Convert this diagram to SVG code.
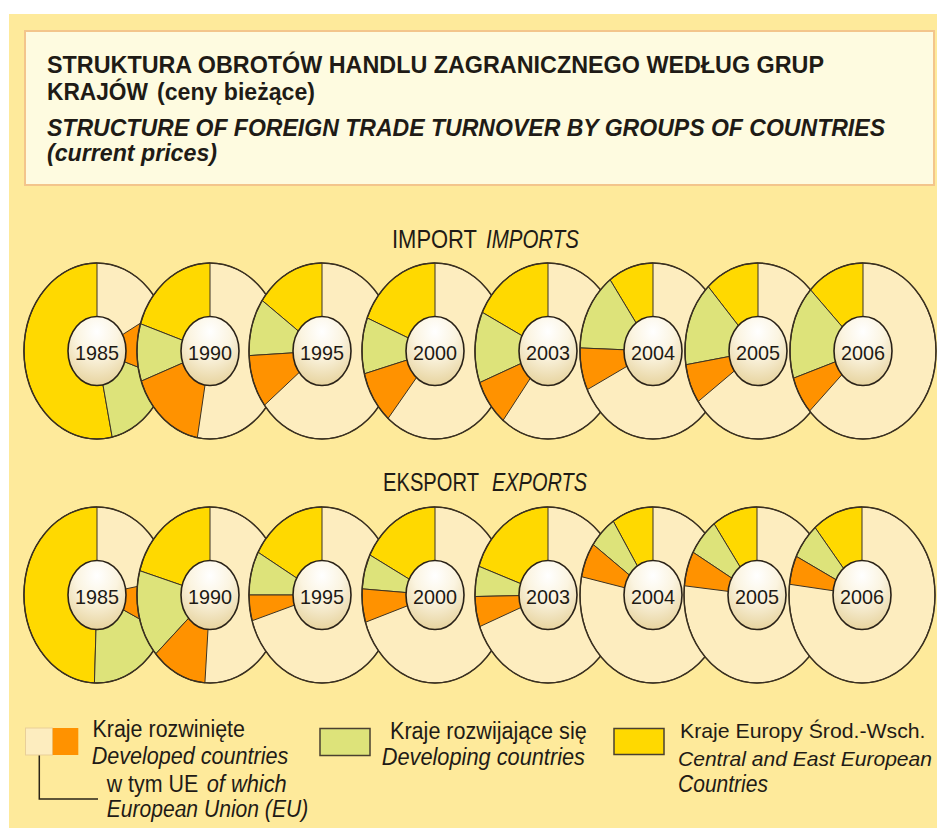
<svg xmlns="http://www.w3.org/2000/svg" width="937" height="828" viewBox="0 0 937 828">
<defs>
<radialGradient id="gl" cx="50%" cy="22%" r="80%">
<stop offset="0" stop-color="#ffffff"/>
<stop offset="0.45" stop-color="#fbf4e0"/>
<stop offset="1" stop-color="#e6d29c"/>
</radialGradient>
<style>
.t{font-family:"Liberation Sans",Arial,sans-serif;fill:#1f1b16}
.h{font-size:24px;font-weight:bold}
.lg{font-size:23px}
.lgs{font-size:21px}
.it{font-style:italic}
.cr{fill:#fdedbf}
.ye{fill:#ffd900}
.gr{fill:#dde37a}
.or{fill:#ff9200}
.w{stroke:#3d3322;stroke-width:1;stroke-linejoin:round}
.ol{fill:none;stroke:#3a3020;stroke-width:1.5}
.in{fill:url(#gl);stroke:#2a2218;stroke-width:1.6}
.yr{font-family:"Liberation Sans",Arial,sans-serif;font-size:21px;fill:#1e1a14;text-anchor:middle}
.sw{stroke:#4a4030;stroke-width:1.5}
</style>
</defs>
<rect x="0" y="0" width="937" height="828" fill="#ffffff"/>
<rect x="9" y="14" width="928" height="814" fill="#feea9b"/>
<g id="title">
<rect x="25" y="31" width="909" height="154" fill="#fefbe0" stroke="#f3c58c" stroke-width="2"/>
<text class="t h" x="47" y="72.5" textLength="777" lengthAdjust="spacingAndGlyphs">STRUKTURA OBROTÓW HANDLU ZAGRANICZNEGO WEDŁUG GRUP</text>
<text class="t h" x="47" y="100" textLength="101" lengthAdjust="spacingAndGlyphs">KRAJÓW</text>
<text class="t h" x="157" y="100" textLength="158" lengthAdjust="spacingAndGlyphs">(ceny bieżące)</text>
<text class="t h it" x="47" y="135.5" textLength="838" lengthAdjust="spacingAndGlyphs">STRUCTURE OF FOREIGN TRADE TURNOVER BY GROUPS OF COUNTRIES</text>
<text class="t h it" x="47" y="161" textLength="170" lengthAdjust="spacingAndGlyphs">(current prices)</text>
</g>
<g id="import-label">
<text class="t" x="392" y="248" font-size="25" textLength="85" lengthAdjust="spacingAndGlyphs">IMPORT</text>
<text class="t it" x="486" y="248" font-size="25" textLength="93" lengthAdjust="spacingAndGlyphs">IMPORTS</text>
</g>
<g id="export-label">
<text class="t" x="383" y="491" font-size="25" textLength="96" lengthAdjust="spacingAndGlyphs">EKSPORT</text>
<text class="t it" x="492" y="491" font-size="25" textLength="95" lengthAdjust="spacingAndGlyphs">EXPORTS</text>
</g>

<g id="imp-1985" transform="translate(97,351)">
<ellipse class="cr w" rx="73" ry="88"/>
<path class="ye w" d="M0,0 L0,-88 A73,88 0 1 0 15.18,86.07 Z"/>
<path class="gr w" d="M0,0 L15.18,86.07 A73,88 0 0 0 69.43,27.19 Z"/>
<path class="or w" d="M0,0 L69.43,27.19 A73,88 0 0 0 64.45,-41.32 Z"/>
<ellipse class="ol" rx="73" ry="88"/>
<ellipse class="in" rx="29" ry="34.5"/>
<text class="yr" y="8.5" textLength="44" lengthAdjust="spacingAndGlyphs">1985</text>
</g>
<g id="imp-1990" transform="translate(210,351)">
<ellipse class="cr w" rx="73" ry="88"/>
<path class="ye w" d="M0,0 L0,-88 A73,88 0 0 0 -69.43,-27.19 Z"/>
<path class="gr w" d="M0,0 L-69.43,-27.19 A73,88 0 0 0 -68.60,30.10 Z"/>
<path class="or w" d="M0,0 L-68.60,30.10 A73,88 0 0 0 -12.68,86.66 Z"/>
<ellipse class="ol" rx="73" ry="88"/>
<ellipse class="in" rx="29" ry="34.5"/>
<text class="yr" y="8.5" textLength="44" lengthAdjust="spacingAndGlyphs">1990</text>
</g>
<g id="imp-1995" transform="translate(322,351)">
<ellipse class="cr w" rx="73" ry="88"/>
<path class="ye w" d="M0,0 L0,-88 A73,88 0 0 0 -59.80,-50.48 Z"/>
<path class="gr w" d="M0,0 L-59.80,-50.48 A73,88 0 0 0 -72.90,4.61 Z"/>
<path class="or w" d="M0,0 L-72.90,4.61 A73,88 0 0 0 -57.52,54.18 Z"/>
<ellipse class="ol" rx="73" ry="88"/>
<ellipse class="in" rx="29" ry="34.5"/>
<text class="yr" y="8.5" textLength="44" lengthAdjust="spacingAndGlyphs">1995</text>
</g>
<g id="imp-2000" transform="translate(435,351)">
<ellipse class="cr w" rx="73" ry="88"/>
<path class="ye w" d="M0,0 L0,-88 A73,88 0 0 0 -67.68,-32.97 Z"/>
<path class="gr w" d="M0,0 L-67.68,-32.97 A73,88 0 0 0 -70.51,22.78 Z"/>
<path class="or w" d="M0,0 L-70.51,22.78 A73,88 0 0 0 -46.92,67.41 Z"/>
<ellipse class="ol" rx="73" ry="88"/>
<ellipse class="in" rx="29" ry="34.5"/>
<text class="yr" y="8.5" textLength="44" lengthAdjust="spacingAndGlyphs">2000</text>
</g>
<g id="imp-2003" transform="translate(548,351)">
<ellipse class="cr w" rx="73" ry="88"/>
<path class="ye w" d="M0,0 L0,-88 A73,88 0 0 0 -65.61,-38.58 Z"/>
<path class="gr w" d="M0,0 L-65.61,-38.58 A73,88 0 0 0 -68.15,31.54 Z"/>
<path class="or w" d="M0,0 L-68.15,31.54 A73,88 0 0 0 -44.94,69.34 Z"/>
<ellipse class="ol" rx="73" ry="88"/>
<ellipse class="in" rx="29" ry="34.5"/>
<text class="yr" y="8.5" textLength="44" lengthAdjust="spacingAndGlyphs">2003</text>
</g>
<g id="imp-2004" transform="translate(653,351)">
<ellipse class="cr w" rx="73" ry="88"/>
<path class="ye w" d="M0,0 L0,-88 A73,88 0 0 0 -42.91,-71.19 Z"/>
<path class="gr w" d="M0,0 L-42.91,-71.19 A73,88 0 0 0 -72.96,-3.07 Z"/>
<path class="or w" d="M0,0 L-72.96,-3.07 A73,88 0 0 0 -65.61,38.58 Z"/>
<ellipse class="ol" rx="73" ry="88"/>
<ellipse class="in" rx="29" ry="34.5"/>
<text class="yr" y="8.5" textLength="44" lengthAdjust="spacingAndGlyphs">2004</text>
</g>
<g id="imp-2005" transform="translate(758,351)">
<ellipse class="cr w" rx="73" ry="88"/>
<path class="ye w" d="M0,0 L0,-88 A73,88 0 0 0 -49.79,-64.36 Z"/>
<path class="gr w" d="M0,0 L-49.79,-64.36 A73,88 0 0 0 -72.10,13.76 Z"/>
<path class="or w" d="M0,0 L-72.10,13.76 A73,88 0 0 0 -59.80,50.48 Z"/>
<ellipse class="ol" rx="73" ry="88"/>
<ellipse class="in" rx="29" ry="34.5"/>
<text class="yr" y="8.5" textLength="44" lengthAdjust="spacingAndGlyphs">2005</text>
</g>
<g id="imp-2006" transform="translate(863,351)">
<ellipse class="cr w" rx="73" ry="88"/>
<path class="ye w" d="M0,0 L0,-88 A73,88 0 0 0 -52.51,-61.13 Z"/>
<path class="gr w" d="M0,0 L-52.51,-61.13 A73,88 0 0 0 -69.43,27.19 Z"/>
<path class="or w" d="M0,0 L-69.43,27.19 A73,88 0 0 0 -53.39,60.02 Z"/>
<ellipse class="ol" rx="73" ry="88"/>
<ellipse class="in" rx="29" ry="34.5"/>
<text class="yr" y="8.5" textLength="44" lengthAdjust="spacingAndGlyphs">2006</text>
</g>

<g id="exp-1985" transform="translate(97,595)">
<ellipse class="cr w" rx="73" ry="88"/>
<path class="ye w" d="M0,0 L0,-88 A73,88 0 0 0 -2.55,87.95 Z"/>
<path class="gr w" d="M0,0 L-2.55,87.95 A73,88 0 0 0 66.16,37.19 Z"/>
<path class="or w" d="M0,0 L66.16,37.19 A73,88 0 0 0 71.89,-15.28 Z"/>
<ellipse class="ol" rx="73" ry="88"/>
<ellipse class="in" rx="29" ry="34.5"/>
<text class="yr" y="8.5" textLength="44" lengthAdjust="spacingAndGlyphs">1985</text>
</g>
<g id="exp-1990" transform="translate(210,595)">
<ellipse class="cr w" rx="73" ry="88"/>
<path class="ye w" d="M0,0 L0,-88 A73,88 0 0 0 -70.17,-24.25 Z"/>
<path class="gr w" d="M0,0 L-70.17,-24.25 A73,88 0 0 0 -54.25,58.88 Z"/>
<path class="or w" d="M0,0 L-54.25,58.88 A73,88 0 0 0 -5.09,87.79 Z"/>
<ellipse class="ol" rx="73" ry="88"/>
<ellipse class="in" rx="29" ry="34.5"/>
<text class="yr" y="8.5" textLength="44" lengthAdjust="spacingAndGlyphs">1990</text>
</g>
<g id="exp-1995" transform="translate(322,595)">
<ellipse class="cr w" rx="73" ry="88"/>
<path class="ye w" d="M0,0 L0,-88 A73,88 0 0 0 -63.85,-42.66 Z"/>
<path class="gr w" d="M0,0 L-63.85,-42.66 A73,88 0 0 0 -73,0 Z"/>
<path class="or w" d="M0,0 L-73,0 A73,88 0 0 0 -69.81,25.73 Z"/>
<ellipse class="ol" rx="73" ry="88"/>
<ellipse class="in" rx="29" ry="34.5"/>
<text class="yr" y="8.5" textLength="44" lengthAdjust="spacingAndGlyphs">1995</text>
</g>
<g id="exp-2000" transform="translate(435,595)">
<ellipse class="cr w" rx="73" ry="88"/>
<path class="ye w" d="M0,0 L0,-88 A73,88 0 0 0 -65.04,-39.95 Z"/>
<path class="gr w" d="M0,0 L-65.04,-39.95 A73,88 0 0 0 -72.82,-6.14 Z"/>
<path class="or w" d="M0,0 L-72.82,-6.14 A73,88 0 0 0 -69.43,27.19 Z"/>
<ellipse class="ol" rx="73" ry="88"/>
<ellipse class="in" rx="29" ry="34.5"/>
<text class="yr" y="8.5" textLength="44" lengthAdjust="spacingAndGlyphs">2000</text>
</g>
<g id="exp-2003" transform="translate(548,595)">
<ellipse class="cr w" rx="73" ry="88"/>
<path class="ye w" d="M0,0 L0,-88 A73,88 0 0 0 -69.02,-28.65 Z"/>
<path class="gr w" d="M0,0 L-69.02,-28.65 A73,88 0 0 0 -72.99,1.54 Z"/>
<path class="or w" d="M0,0 L-72.99,1.54 A73,88 0 0 0 -68.15,31.54 Z"/>
<ellipse class="ol" rx="73" ry="88"/>
<ellipse class="in" rx="29" ry="34.5"/>
<text class="yr" y="8.5" textLength="44" lengthAdjust="spacingAndGlyphs">2003</text>
</g>
<g id="exp-2004" transform="translate(653,595)">
<ellipse class="cr w" rx="73" ry="88"/>
<path class="ye w" d="M0,0 L0,-88 A73,88 0 0 0 -39.76,-73.81 Z"/>
<path class="gr w" d="M0,0 L-39.76,-73.81 A73,88 0 0 0 -59.80,-50.48 Z"/>
<path class="or w" d="M0,0 L-59.80,-50.48 A73,88 0 0 0 -71.40,-18.30 Z"/>
<ellipse class="ol" rx="73" ry="88"/>
<ellipse class="in" rx="29" ry="34.5"/>
<text class="yr" y="8.5" textLength="44" lengthAdjust="spacingAndGlyphs">2004</text>
</g>
<g id="exp-2005" transform="translate(757,595)">
<ellipse class="cr w" rx="73" ry="88"/>
<path class="ye w" d="M0,0 L0,-88 A73,88 0 0 0 -42.91,-71.19 Z"/>
<path class="gr w" d="M0,0 L-42.91,-71.19 A73,88 0 0 0 -63.85,-42.66 Z"/>
<path class="or w" d="M0,0 L-63.85,-42.66 A73,88 0 0 0 -72.60,-9.20 Z"/>
<ellipse class="ol" rx="73" ry="88"/>
<ellipse class="in" rx="29" ry="34.5"/>
<text class="yr" y="8.5" textLength="44" lengthAdjust="spacingAndGlyphs">2005</text>
</g>
<g id="exp-2006" transform="translate(862,595)">
<ellipse class="cr w" rx="73" ry="88"/>
<path class="ye w" d="M0,0 L0,-88 A73,88 0 0 0 -46.92,-67.41 Z"/>
<path class="gr w" d="M0,0 L-46.92,-67.41 A73,88 0 0 0 -65.61,-38.58 Z"/>
<path class="or w" d="M0,0 L-65.61,-38.58 A73,88 0 0 0 -72.46,-10.72 Z"/>
<ellipse class="ol" rx="73" ry="88"/>
<ellipse class="in" rx="29" ry="34.5"/>
<text class="yr" y="8.5" textLength="44" lengthAdjust="spacingAndGlyphs">2006</text>
</g>

<g id="connectors">
<polyline points="39.3,755 39.3,799 98,799" fill="none" stroke="#2a2418" stroke-width="1.5"/>
</g>
<g id="legend-developed">
<rect x="25.5" y="728" width="27" height="27" class="cr" stroke="#e9cf98" stroke-width="1"/>
<rect x="52.7" y="728" width="25.6" height="27" class="or"/>
<text class="t lg" x="92.5" y="736.5" textLength="152.5" lengthAdjust="spacingAndGlyphs">Kraje rozwinięte</text>
<text class="t lg it" x="91.7" y="763.5" textLength="196.5" lengthAdjust="spacingAndGlyphs">Developed countries</text>
<text class="t lg" x="106.7" y="792" textLength="91.6" lengthAdjust="spacingAndGlyphs">w tym UE</text>
<text class="t lg it" x="206.7" y="792" textLength="80" lengthAdjust="spacingAndGlyphs">of which</text>
<text class="t lg it" x="106.7" y="816.5" textLength="201.5" lengthAdjust="spacingAndGlyphs">European Union (EU)</text>
</g>
<g id="legend-developing">
<rect x="320" y="728.5" width="50" height="27" class="gr sw"/>
<text class="t lg" x="390" y="738.5" textLength="196.7" lengthAdjust="spacingAndGlyphs">Kraje rozwijające się</text>
<text class="t lg it" x="381.7" y="765" textLength="203.3" lengthAdjust="spacingAndGlyphs">Developing countries</text>
</g>
<g id="legend-cee">
<rect x="614" y="728.5" width="50" height="26" class="ye sw"/>
<text class="t lgs" x="680" y="738" textLength="245.5" lengthAdjust="spacingAndGlyphs">Kraje Europy Środ.-Wsch.</text>
<text class="t lgs it" x="678" y="766" textLength="254" lengthAdjust="spacingAndGlyphs">Central and East European</text>
<text class="t lg it" x="678" y="792" textLength="90" lengthAdjust="spacingAndGlyphs">Countries</text>
</g>
</svg>
